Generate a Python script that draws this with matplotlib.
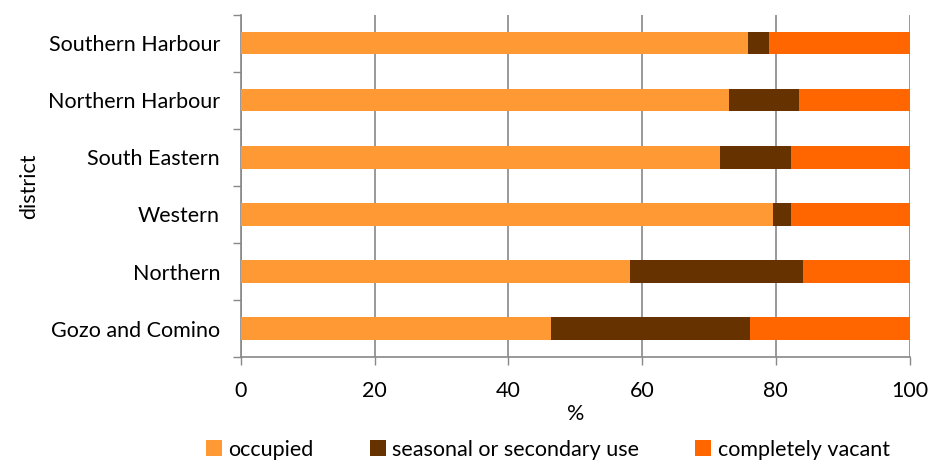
import numpy as np
from matplotlib import pyplot as plt

districts = ["Southern Harbour", "Northern Harbour", "South Eastern", "Western", "Northern", "Gozo and Comino"]
occupied = [75.9, 73.0, 71.7, 79.6, 58.2, 46.4]
seasonal = [3.1, 10.4, 10.5, 2.6, 25.9, 29.8]
vacant = [21.0, 16.6, 17.8, 17.8, 15.9, 23.8]

series_names = ["occupied", "seasonal or secondary use", "completely vacant"]
colors = ["#FF9933", "#663300", "#FF6600"]

plt.rcParams["font.family"] = ["Lato", "DejaVu Sans"]

fig = plt.figure(figsize=(9.3, 4.62), dpi=100)
ax = fig.add_axes([0.259, 0.227, 0.719, 0.741])

# top row first in the list, so positions count down
y = np.arange(len(districts))[::-1]
left = np.zeros(len(districts))
for name, values, color in zip(series_names, [occupied, seasonal, vacant], colors):
    ax.barh(y, values, left=left, height=0.39, color=color, label=name, zorder=3)
    left += np.array(values)

ax.set_xlim(0, 100)
ax.set_ylim(-0.5, len(districts) - 0.5)
ax.set_xticks(np.arange(0, 101, 20))
ax.set_yticks(y)
ax.set_yticklabels(districts)
ax.set_yticks(np.arange(-0.5, len(districts), 1), minor=True)

ax.tick_params(axis="y", which="major", length=0, pad=15, labelsize=15.5)
ax.tick_params(axis="y", which="minor", length=6, color="#888888", width=1)
ax.tick_params(axis="x", length=6, color="#888888", width=1, labelsize=15.5, pad=11)

ax.grid(axis="x", color="#888888", linewidth=1.2, zorder=0)
for side in ["top", "right"]:
    ax.spines[side].set_visible(False)
for side in ["left", "bottom"]:
    ax.spines[side].set_color("#888888")
    ax.spines[side].set_linewidth(1.2)

ax.set_xlabel("%", fontsize=15.5, labelpad=2)
ax.set_ylabel("district", fontsize=15.5, labelpad=6)

fig.legend(loc="center", bbox_to_anchor=(0.589, 0.027), ncol=3, frameon=False,
           fontsize=15.5, handlelength=0.75, handleheight=0.75, handletextpad=0.3,
           columnspacing=2.6, borderaxespad=0, borderpad=0)

plt.savefig("out.png", dpi=100)
